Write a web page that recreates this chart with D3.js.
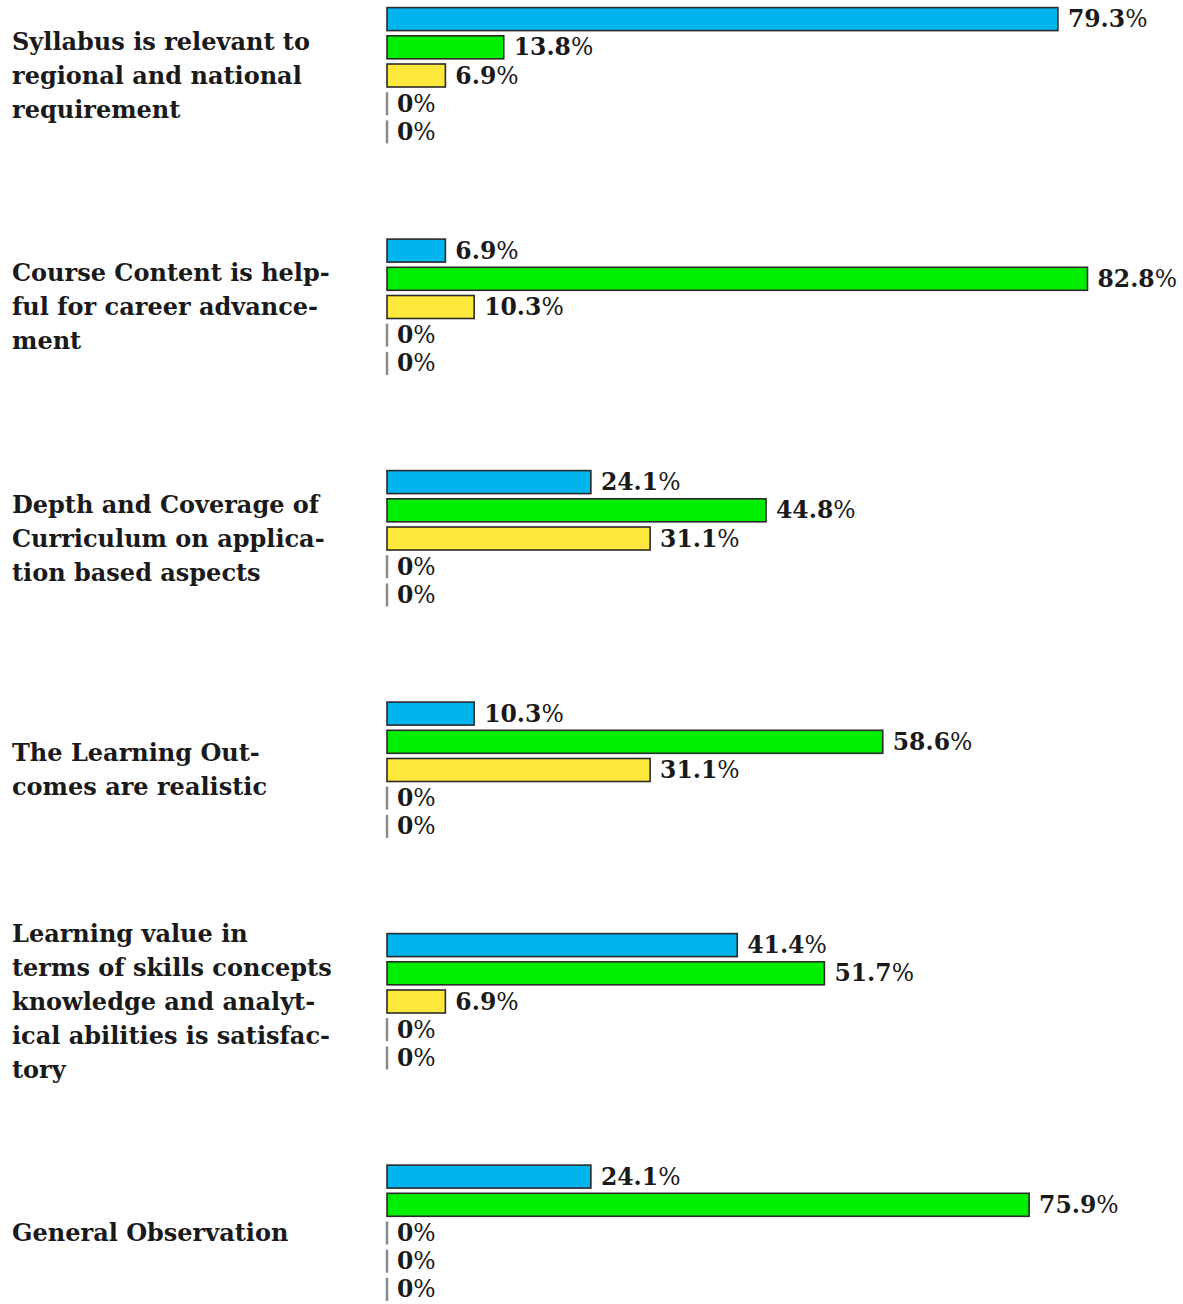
<!DOCTYPE html>
<html>
<head>
<meta charset="utf-8">
<script src="https://cdn.jsdelivr.net/npm/d3@7"></script>
<style>
  html, body { margin: 0; padding: 0; background: #fff; }
  svg { display: block; }
  text { font-family: "DejaVu Serif", "Liberation Serif", serif; font-weight: bold; fill: #1a1a1a; }
</style>
</head>
<body>
<svg id="chart" width="1183" height="1304"></svg>
<script>
const categories = [
  ["Syllabus is relevant to", "regional and national", "requirement"],
  ["Course Content is help-", "ful for career advance-", "ment"],
  ["Depth and Coverage of", "Curriculum on applica-", "tion based aspects"],
  ["The Learning Out-", "comes are realistic"],
  ["Learning value in", "terms of skills concepts", "knowledge and analyt-", "ical abilities is satisfac-", "tory"],
  ["General Observation"]
];
const seriesNames = ["s1", "s2", "s3", "s4", "s5"];
const series1 = [79.3, 6.9, 24.1, 10.3, 41.4, 24.1];
const series2 = [13.8, 82.8, 44.8, 58.6, 51.7, 75.9];
const series3 = [6.9, 10.3, 31.1, 31.1, 6.9, 0];
const series4 = [0, 0, 0, 0, 0, 0];
const series5 = [0, 0, 0, 0, 0, 0];
const seriesColors = ["#00b4ee", "#00ee00", "#ffe83c", "#ffffff", "#ffffff"];

const allSeries = [series1, series2, series3, series4, series5];
const svg = d3.select("#chart");

const x = d3.scaleLinear().domain([0, 100]).range([387, 1233]);
const yGroup = d3.scalePoint().domain(d3.range(categories.length)).range([75.5, 1233]);
const yInner = d3.scalePoint().domain(d3.range(seriesNames.length)).range([-56.4, 56.4]);
const barH = 23;
const lineH = 34;

const groups = svg.selectAll("g.group")
  .data(categories)
  .join("g")
  .attr("class", "group")
  .attr("transform", (d, i) => `translate(0,${yGroup(i)})`);

// category labels
groups.each(function(lines) {
  const g = d3.select(this);
  const n = lines.length;
  g.selectAll("text.cat")
    .data(lines)
    .join("text")
    .attr("class", "cat")
    .attr("x", 12)
    .attr("y", (d, j) => (j - (n - 1) / 2) * lineH)
    .attr("dy", "0.35em")
    .style("font-size", "24px")
    .text(d => d);
});

// bars
groups.each(function(_, gi) {
  const g = d3.select(this);
  const rows = allSeries.map((s, si) => ({ v: s[gi], si }));
  const nonZero = rows.filter(d => d.v > 0);
  const zero = rows.filter(d => d.v === 0);

  g.selectAll("rect.bar")
    .data(nonZero)
    .join("rect")
    .attr("class", "bar")
    .attr("x", x(0))
    .attr("y", d => yInner(d.si) - barH / 2)
    .attr("width", d => x(d.v) - x(0))
    .attr("height", barH)
    .attr("fill", d => seriesColors[d.si])
    .attr("stroke", "#2a2a2a")
    .attr("stroke-width", 1.6);

  g.selectAll("line.zero")
    .data(zero)
    .join("line")
    .attr("class", "zero")
    .attr("x1", d => x(d.v))
    .attr("x2", d => x(d.v))
    .attr("y1", d => yInner(d.si) - barH / 2)
    .attr("y2", d => yInner(d.si) + barH / 2)
    .attr("stroke", "#8a8a8a")
    .attr("stroke-width", 2.5);

  const lbl = g.selectAll("text.val")
    .data(rows)
    .join("text")
    .attr("class", "val")
    .attr("x", d => x(d.v) + 10)
    .attr("y", d => yInner(d.si))
    .attr("dy", "0.34em")
    .style("font-size", "23.5px");
  lbl.append("tspan").text(d => d3.format(".1~f")(d.v));
  lbl.append("tspan").style("font-weight", "normal").text("%");
});
</script>
</body>
</html>
